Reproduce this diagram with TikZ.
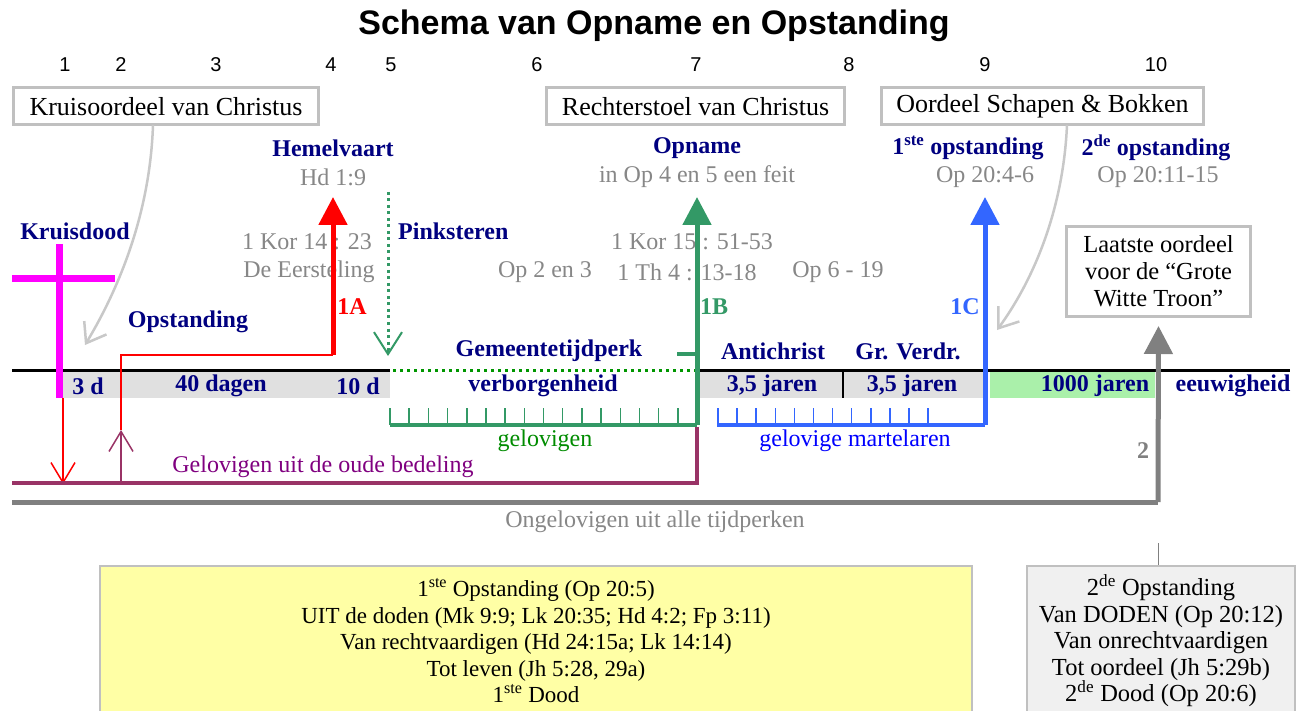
\documentclass[tikz,border=0pt]{standalone}
\usepackage{fontspec}
\setmainfont{Liberation Serif}
\newfontfamily\titlefont{Liberation Sans}
\usetikzlibrary{arrows.meta,calc}
\definecolor{navyc}{RGB}{0,0,128}
\definecolor{reftxt}{RGB}{135,135,135}
\definecolor{boxgray}{RGB}{192,192,192}
\definecolor{curvegray}{RGB}{200,200,200}
\definecolor{redc}{RGB}{255,0,0}
\definecolor{greenarr}{RGB}{51,153,102}
\definecolor{greentxt}{RGB}{0,140,0}
\definecolor{greendot}{RGB}{0,150,0}
\definecolor{bluearr}{RGB}{51,102,255}
\definecolor{bluetxt}{RGB}{0,0,255}
\definecolor{purpline}{RGB}{153,51,102}
\definecolor{purptxt}{RGB}{128,0,128}
\definecolor{grayline}{RGB}{128,128,128}
\definecolor{bandgray}{RGB}{224,224,224}
\definecolor{millgreen}{RGB}{170,240,170}
\definecolor{yelfill}{RGB}{255,255,165}
\definecolor{boxfill}{RGB}{240,240,240}
\definecolor{magentac}{RGB}{255,0,255}
\begin{document}
\begin{tikzpicture}[x=1pt,y=-1pt,
  every node/.style={inner sep=0pt},
  navy/.style={font=\fontsize{24}{26}\selectfont\bfseries, text=navyc},
  reft/.style={font=\fontsize{24}{26}\selectfont, text=reftxt},
  num/.style={font=\titlefont\fontsize{20}{22}\selectfont},
  topbox/.style={draw=boxgray, line width=3pt, fill=white, minimum height=37pt, font=\fontsize{26}{28}\selectfont},
  bigtip/.style={-{Triangle[length=28pt,width=28pt]}},
  vtip/.style={-{Straight Barb[length=20pt,width=24pt]}},
  curvearrow/.style={draw=curvegray, line width=2.5pt, -{Straight Barb[length=18pt,width=26pt]}},
  tick/.style={line width=1.5pt},
  infobox/.style={draw=boxgray, line width=1.5pt, align=center}
]
\useasboundingbox (0,0) rectangle (1301,711);
\fill[white] (0,0) rectangle (1301,711);

% title and numbers
\node[font=\titlefont\bfseries\fontsize{34}{36}\selectfont] (title) at (654,26) {Schema van Opname en Opstanding};
\foreach \x/\t [count=\i] in {65/1,121/2,216/3,331/4,391/5,537/6,696/7,849/8,985/9,1156/10}
  \node[num] (n\i) at (\x,65) {\t};

% top boxes
\node[topbox, minimum width=305pt] (kruis) at (166,106.5) {Kruisoordeel van Christus};
\node[topbox, minimum width=298pt] (recht) at (695.5,106.5) {Rechterstoel van Christus};
\node[topbox, minimum width=322pt] (oordeel) at (1042.5,106.5) {Oordeel Schapen \& Bokken};
\node[topbox, minimum width=184pt, minimum height=90pt, align=center, font=\fontsize{24.5}{27}\selectfont] (laatste) at (1158.5,271.5) {Laatste oordeel\\voor de “Grote\\Witte Troon”};

% bands on the timeline
\fill[bandgray] (62,372) rectangle (390,398);
\fill[bandgray] (700,372) rectangle (985,398);
\fill[millgreen] (990,372) rectangle (1155,398);
\draw[line width=1.5pt] (843,372) -- (843,398);

% labels
\node[navy] (hemel) at (333,148) {Hemelvaart};
\node[reft] (hd19) at (333,177) {Hd 1:9};
\node[navy] (opname) at (697,148) {Opname};
\node[reft] (opfeit) at (697,177) {in Op 4 en 5 een feit};
\node[navy] (ste) at (968,148) {1\textsuperscript{ste} opstanding};
\node[reft] (op2046) at (985,177) {Op 20:4-6};
\node[navy] (tweede) at (1156,148) {2\textsuperscript{de} opstanding};
\node[reft] (op2011) at (1158,177) {Op 20:11-15};
\node[navy] (kruisdood) at (75,231) {Kruisdood};
\node[reft] (kor14) at (307,242) {1 Kor 14 : 23};
\node[reft] (eerst) at (309,272) {De Eersteling};
\node[navy, anchor=west] (pinks) at (398,231) {Pinksteren};
\node[reft] (kor15) at (692,242) {1 Kor 15 : 51-53};
\node[reft] (op23) at (545,272) {Op 2 en 3};
\node[reft] (th4) at (687,272) {1 Th 4 : 13-18};
\node[reft] (op619) at (838,272) {Op 6 - 19};
\node[navy, text=redc] (lA) at (352,307) {1A};
\node[navy, text=greenarr] (lB) at (714,307) {1B};
\node[navy, text=bluearr] (lC) at (965,307) {1C};
\node[navy] (opst) at (188,322) {Opstanding};
\node[navy] (gemeente) at (549,351) {Gemeentetijdperk};
\node[navy] (anti) at (773,351) {Antichrist};
\node[navy] (grv) at (908,351) {Gr. Verdr.};
\node[navy] (d3) at (88,386) {3 d};
\node[navy] (d40) at (221,386) {40 dagen};
\node[navy] (d10) at (358,386) {10 d};
\node[navy] (verb) at (543,386) {verborgenheid};
\node[navy] (ja) at (772,386) {3,5 jaren};
\node[navy] (jb) at (912,386) {3,5 jaren};
\node[navy] (mill) at (1095,386) {1000 jaren};
\node[navy] (eeuw) at (1233,386) {eeuwigheid};
\node[reft, text=greentxt] (gelov) at (545,441) {gelovigen};
\node[reft, text=bluetxt] (mart) at (855,441) {gelovige martelaren};
\node[reft, text=purptxt] (oude) at (323,467) {Gelovigen uit de oude bedeling};
\node[navy, text=grayline] (two) at (1143,451) {2};
\node[reft] (ongel) at (655,522) {Ongelovigen uit alle tijdperken};

% timeline
\draw[line width=3pt] (12,370) -- (390,370);
\draw[line width=3pt] (697,370) -- (1290,370);
\draw[greendot, line width=3pt, dash pattern=on 3pt off 4pt] (393,370) -- (697,370);

% cross
\draw[magentac, line width=7pt] (59,244) -- (59,398);
\draw[magentac, line width=7pt] (12,278.5) -- (115,278.5);

% named points
\coordinate (crossfoot) at (63,398);
\coordinate (redland) at (63,484);
\coordinate (purpfoot) at (121,483);
\coordinate (purptip) at (121,430);
\coordinate (redcorner) at (121,355);
\coordinate (redknee) at (333,355);
\coordinate (redtip) at (333,197);
\coordinate (pinktop) at (388,192);
\coordinate (pinkmid) at (388,350);
\coordinate (pinktip) at (388,356);
\coordinate (gbl) at (390,425);
\coordinate (gbr) at (697,425);
\coordinate (gtip) at (697,197);
\coordinate (bbl) at (717,425);
\coordinate (bbr) at (985,425);
\coordinate (btip) at (985,197);
\coordinate (pleft) at (12,483);
\coordinate (pright) at (697,483);
\coordinate (ptop) at (697,427);
\coordinate (gleft) at (12,502);
\coordinate (gright) at (1158,502);
\coordinate (ongeldrop) at (1158,543);
\coordinate (kruisfoot) at (153,125);
\coordinate (kruistip) at (85,345);
\coordinate (oordeelfoot) at (1067,125);
\coordinate (oordeeltip) at (997,330);

% red paths
\draw[redc, line width=1.5pt, vtip] (crossfoot) -- (redland);
\draw[redc, line width=1.5pt] (purptip) -- (redcorner) -- (redknee);
\draw[redc, line width=5pt, bigtip] (redknee) -- (redtip);

% purple
\draw[purpline, line width=4pt] (pleft) -- (pright) -- (ptop);
\draw[purpline, line width=1.5pt, vtip] (purpfoot) -- (purptip);

% pinksteren dotted arrow
\draw[greenarr, line width=3pt, dash pattern=on 3pt off 3.5pt] (pinktop) -- (pinkmid);
\draw[greenarr, line width=2pt, -{Straight Barb[length=22pt,width=28pt]}] (pinkmid) -- (pinktip);

% green bracket and arrow
\draw[greenarr, line width=4pt] (gbl) -- (gbr);
\foreach \i in {0,...,15} \draw[greenarr, tick] (390+\i*19.19,408) -- (390+\i*19.19,425);
\draw[greenarr, line width=4pt] (677,354) -- (697,354);
\draw[greenarr, line width=5pt, bigtip] (gbr) -- (gtip);

% blue bracket and arrow
\draw[bluearr, line width=4pt] (bbl) -- (bbr);
\foreach \i in {0,...,11} \draw[bluearr, tick] (718+\i*19.1,408) -- (718+\i*19.1,425);
\draw[bluearr, line width=5pt, bigtip] (bbr) -- (btip);

% gray path to the last judgement
\draw[grayline, line width=5pt] (gleft) -- (gright);
\draw[grayline, line width=5pt, bigtip] (gright) -- ($(laatste.south)+(0,8)$);

% curved gray arrows
\draw[curvearrow] (kruisfoot) .. controls (150,215) and (118,290) .. (kruistip);
\draw[curvearrow] (oordeelfoot) .. controls (1063,215) and (1030,285) .. (oordeeltip);

% bottom boxes
\node[infobox, fill=yelfill, minimum width=872pt, minimum height=150pt, anchor=north, font=\fontsize{23}{26.5}\selectfont] (yel) at (536,565)
  {1\textsuperscript{ste} Opstanding (Op 20:5)\\UIT de doden (Mk 9:9; Lk 20:35; Hd 4:2; Fp 3:11)\\Van rechtvaardigen (Hd 24:15a; Lk 14:14)\\Tot leven (Jh 5:28, 29a)\\1\textsuperscript{ste} Dood};
\node[infobox, fill=boxfill, minimum width=268pt, minimum height=150pt, anchor=north, font=\fontsize{24.5}{26.5}\selectfont] (grbox) at (1161,565)
  {2\textsuperscript{de} Opstanding\\Van DODEN (Op 20:12)\\Van onrechtvaardigen\\Tot oordeel (Jh 5:29b)\\2\textsuperscript{de} Dood (Op 20:6)};
\draw[grayline, line width=1pt] (ongeldrop) -- (grbox.north -| ongeldrop);
\end{tikzpicture}
\end{document}
